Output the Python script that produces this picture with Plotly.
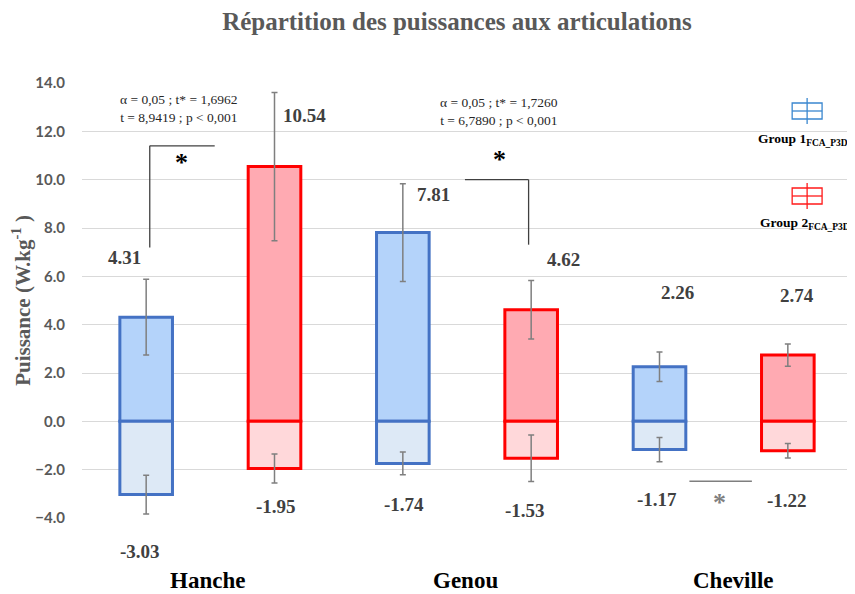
import plotly.graph_objects as go

# ---- data ----
categories = ["Hanche", "Genou", "Cheville"]
group1_pos = [4.31, 7.81, 2.26]
group1_neg = [-3.03, -1.74, -1.17]
group2_pos = [10.54, 4.62, 2.74]
group2_neg = [-1.95, -1.53, -1.22]
group1_pos_err = [1.57, 2.02, 0.61]
group1_neg_err = [0.80, 0.47, 0.50]
group2_pos_err = [3.07, 1.21, 0.46]
group2_neg_err = [0.60, 0.96, 0.30]
ytick_vals = [-4, -2, 0, 2, 4, 6, 8, 10, 12, 14]

# ---- layout helpers ----
YMIN, YMAX = -4, 14
x1 = [2 * i for i in range(len(categories))]
x2 = [2 * i + 1 for i in range(len(categories))]
BW = 0.41
GREY = "#595959"
SERIF = "Liberation Serif"

blue_line = "#4472c4"
red_line = "#ff0000"

def yp(v):
    """data y -> paper y (for texts that sit below the axis range)"""
    return (v - YMIN) / (YMAX - YMIN)

def px(xp):
    return (xp - 80) / 772

def py(ypix):
    return (518 - ypix) / 435

fig = go.Figure()

def bar(x, y, err, fill, line):
    return go.Bar(
        x=x, y=y, width=BW, base=0,
        marker=dict(color=fill, line=dict(color=line, width=3)),
        error_y=dict(type="data", array=err, visible=True, color="#7f7f7f",
                     thickness=1.5, width=3),
        showlegend=False, hoverinfo="skip",
    )

fig.add_trace(bar(x1, group1_pos, group1_pos_err, "#b4d3fa", blue_line))
fig.add_trace(bar(x1, group1_neg, group1_neg_err, "#dde9f6", blue_line))
fig.add_trace(bar(x2, group2_pos, group2_pos_err, "#ffaab2", red_line))
fig.add_trace(bar(x2, group2_neg, group2_neg_err, "#ffd8da", red_line))

ann = []
LBL_FONT = dict(family=SERIF, size=19, color="#404040", weight="bold")
pos_label_xy = [(-0.17, 6.78), (1.23, 12.64), (2.24, 9.38), (3.25, 6.69), (4.14, 5.33), (5.07, 5.21)]
neg_label_xy = [(-0.05, -5.37), (1.01, -3.51), (2.01, -3.43), (2.95, -3.68), (3.98, -3.22), (4.99, -3.26)]
pos_vals, neg_vals = [], []
for i in range(len(categories)):
    pos_vals += [group1_pos[i], group2_pos[i]]
    neg_vals += [group1_neg[i], group2_neg[i]]
for (x, y), v in zip(pos_label_xy + neg_label_xy, pos_vals + neg_vals):
    ann.append(dict(x=x, y=yp(y), yref="paper", xanchor="center", yanchor="middle",
                    text=f"{v:.2f}", showarrow=False, font=LBL_FONT))

# category labels
cat_x = [0.48, 2.49, 4.58]
for cx, c in zip(cat_x, categories):
    ann.append(dict(x=cx, y=yp(-6.57), yref="paper", xanchor="center", yanchor="middle",
                    text=c, showarrow=False,
                    font=dict(family=SERIF, size=23, color="black", weight="bold")))

# stats text
STAT_FONT = dict(family=SERIF, size=13.5, color="#262626")
ann.append(dict(x=0.254, y=12.93, text="α = 0,05 ; t* = 1,6962<br>t = 8,9419 ; p < 0,001",
                showarrow=False, font=STAT_FONT))
ann.append(dict(x=2.75, y=12.83, text="α = 0,05 ; t* = 1,7260<br>t = 6,7890 ; p < 0,001",
                showarrow=False, font=STAT_FONT))

# stars
ann.append(dict(x=0.277, y=10.7, text="*", showarrow=False,
                font=dict(family=SERIF, size=26, color="black", weight="bold")))
ann.append(dict(x=2.75, y=10.82, text="*", showarrow=False,
                font=dict(family=SERIF, size=26, color="black", weight="bold")))
ann.append(dict(x=4.47, y=yp(-3.35), yref="paper", yanchor="middle", text="*", showarrow=False,
                font=dict(family=SERIF, size=26, color="#7f7f7f", weight="bold")))

# legend texts (paper coords)
ann.append(dict(xref="paper", yref="paper", x=px(756), y=py(139), xanchor="left", yanchor="middle",
                text="Group 1<sub>FCA_P3D</sub>", showarrow=False,
                font=dict(family=SERIF, size=13.5, color="black", weight="bold")))
ann.append(dict(xref="paper", yref="paper", x=px(758), y=py(223), xanchor="left", yanchor="middle",
                text="Group 2<sub>FCA_P3D</sub>", showarrow=False,
                font=dict(family=SERIF, size=13.5, color="black", weight="bold")))

shapes = []
lc = dict(color="#404040", width=1.3)
shapes.append(dict(type="line", x0=0.028, x1=0.028, y0=7.19, y1=11.40, line=lc))
shapes.append(dict(type="line", x0=0.028, x1=0.534, y0=11.40, y1=11.40, line=lc))
shapes.append(dict(type="line", x0=2.484, x1=2.98, y0=10.0, y1=10.0, line=lc))
shapes.append(dict(type="line", x0=2.98, x1=2.98, y0=10.0, y1=7.31, line=lc))
shapes.append(dict(type="line", x0=4.233, x1=4.72, y0=-2.48, y1=-2.48,
                   line=dict(color="#7f7f7f", width=1.3)))

# legend icons
for (cy0, cy1, vy0, vy1, col) in [(103, 119, 98, 124, "#3a87cf"), (188, 204, 183, 209, "#ff1a1a")]:
    shapes.append(dict(type="rect", xref="paper", yref="paper", x0=px(792), x1=px(822),
                       y0=py(cy1), y1=py(cy0), line=dict(color=col, width=1.3)))
    shapes.append(dict(type="line", xref="paper", yref="paper", x0=px(792), x1=px(822),
                       y0=py((cy0 + cy1) / 2), y1=py((cy0 + cy1) / 2), line=dict(color=col, width=1.3)))
    shapes.append(dict(type="line", xref="paper", yref="paper", x0=px(807), x1=px(807),
                       y0=py(vy1), y1=py(vy0), line=dict(color=col, width=1.3)))

fig.update_layout(
    width=855, height=594,
    margin=dict(l=72, r=11, t=75, b=84),
    plot_bgcolor="white", paper_bgcolor="white",
    barmode="overlay",
    title=dict(text="Répartition des puissances aux articulations", x=0.525, xanchor="center",
               y=0.977, yanchor="middle",
               font=dict(family=SERIF, size=25, color=GREY, weight="bold")),
    xaxis=dict(range=[-0.5, 5.5], showticklabels=False, showgrid=False, zeroline=False,
               ticks="", showline=False),
    yaxis=dict(range=[YMIN, YMAX], tickvals=ytick_vals, tickformat=".1f",
               gridcolor="#d9d9d9", gridwidth=1, zeroline=False, showline=False,
               ticks="", ticklabelstandoff=16,
               tickfont=dict(family="Lato", size=15, color=GREY, weight="bold"),
               title=dict(text="Puissance (W.kg<sup>-1</sup> )", standoff=2,
                          font=dict(family=SERIF, size=21, color=GREY, weight="bold"))),
    annotations=ann,
    shapes=shapes,
)

fig.write_html("out.html")
